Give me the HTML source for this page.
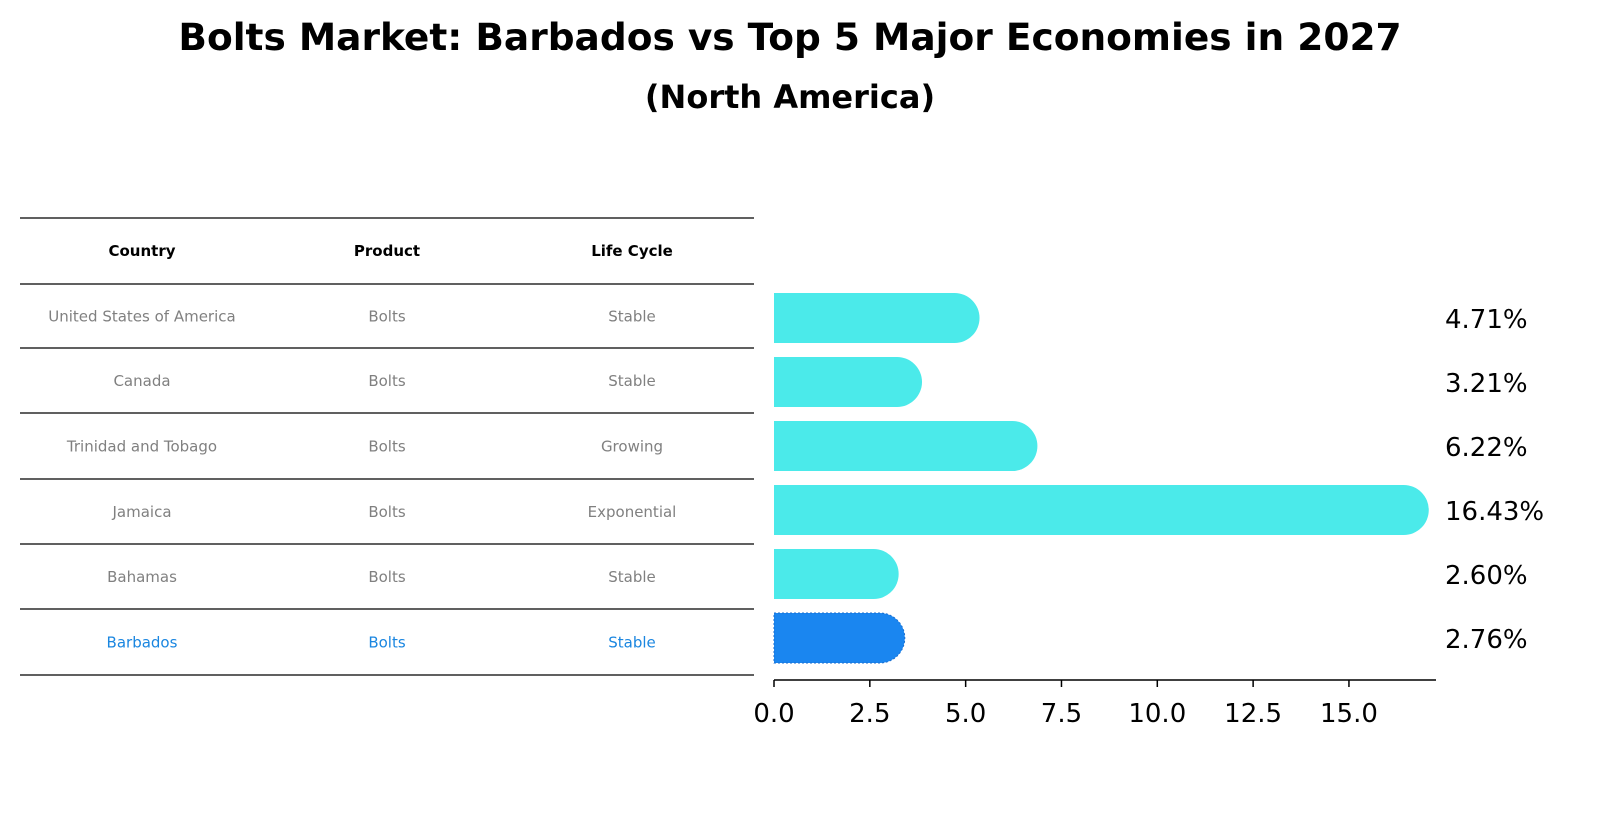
<!DOCTYPE html>
<html><head><meta charset="utf-8"><style>
body{margin:0;background:#fff;font-family:"Liberation Sans","DejaVu Sans",sans-serif}
</style></head><body>
<svg width="1604" height="823" viewBox="0 0 1604 823" xmlns="http://www.w3.org/2000/svg">
<text x="790" y="50" text-anchor="middle" font-size="37.5" font-weight="bold" font-family="DejaVu Sans, Liberation Sans, sans-serif">Bolts Market: Barbados vs Top 5 Major Economies in 2027</text>
<text x="790" y="108" text-anchor="middle" font-size="32" font-weight="bold" font-family="DejaVu Sans, Liberation Sans, sans-serif">(North America)</text>
<g id="table"></g>
<g id="bars"></g>
</svg>
<script>
const countries=["United States of America","Canada","Trinidad and Tobago","Jamaica","Bahamas","Barbados"];
const products=["Bolts","Bolts","Bolts","Bolts","Bolts","Bolts"];
const lifecycles=["Stable","Stable","Growing","Exponential","Stable","Stable"];
const values=[4.71,3.21,6.22,16.43,2.60,2.76];
const ticks=[0,2.5,5,7.5,10,12.5,15];
const NS="http://www.w3.org/2000/svg";
function mk(tag,attrs,parent,txt){const e=document.createElementNS(NS,tag);for(const k in attrs)e.setAttribute(k,attrs[k]);if(txt!==undefined)e.textContent=txt;parent.appendChild(e);return e;}
const X=v=>774+v*38.33;
const Y=i=>318+i*64;
const tb=document.getElementById('table');
const lines=[218,284,348,413,479,544,609,675];
lines.forEach(y=>{const l=mk('line',{x1:20,x2:754,y1:y,y2:y,stroke:'#000','stroke-width':1.2},tb);

});
const cx=[142,387,632];
["Country","Product","Life Cycle"].forEach((h,j)=>{const t=mk('text',{x:cx[j],y:256,'text-anchor':'middle','font-size':15,'font-weight':'bold','font-family':'DejaVu Sans, Liberation Sans, sans-serif'},tb,h);

});
countries.forEach((c,i)=>{const y=(lines[i+1]+lines[i+2])/2+5.5;const col=i===5?'#1a86e0':'#808080';
[c,products[i],lifecycles[i]].forEach((s,j)=>{const t=mk('text',{x:cx[j],y:y,'text-anchor':'middle','font-size':15,fill:col,'font-family':'DejaVu Sans, Liberation Sans, sans-serif'},tb,s);

});});
const g=document.getElementById('bars');
values.forEach((v,i)=>{const x0=X(0),x1=X(v),y=Y(i),h=25;
const col=i===5?'#1a86f0':'#4beaea';
const attrs={d:`M${x0},${y-h}L${x1},${y-h}A${h},${h} 0 0 1 ${x1},${y+h}L${x0},${y+h}Z`,fill:col};
if(i===5){attrs.stroke='#1a6fd0';attrs['stroke-width']=1;attrs['stroke-dasharray']='2,2';}
const p=mk('path',attrs,g);


const t=mk('text',{x:1445,y:y+10,'font-size':26,'font-family':'DejaVu Sans, Liberation Sans, sans-serif'},g,v.toFixed(2)+'%');

});
const ax=mk('line',{x1:774,x2:1436,y1:680,y2:680,stroke:'#000','stroke-width':1.6},g);


ticks.forEach(v=>{const l=mk('line',{x1:X(v),x2:X(v),y1:680,y2:687,stroke:'#000','stroke-width':1.5},g);


const t=mk('text',{x:X(v),y:722,'text-anchor':'middle','font-size':26,'font-family':'DejaVu Sans, Liberation Sans, sans-serif'},g,v.toFixed(1));

});
</script>
</body></html>
